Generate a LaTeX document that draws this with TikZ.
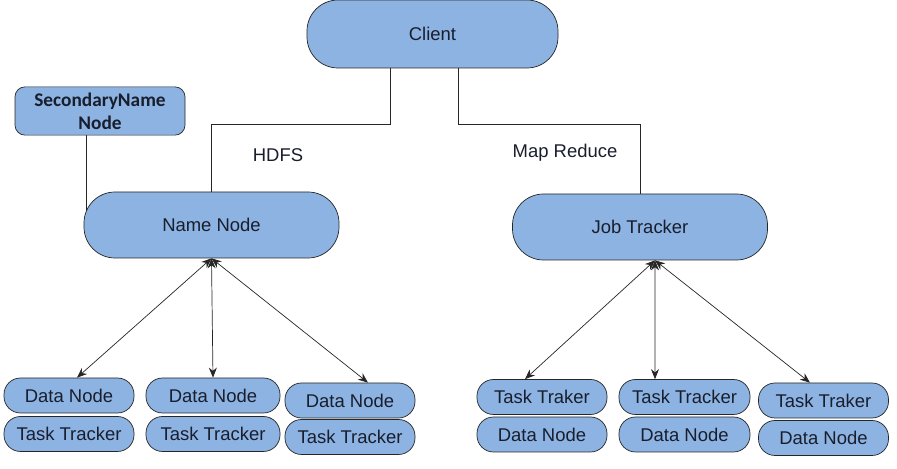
\documentclass[tikz,border=0pt]{standalone}
\usepackage{fontspec}
\setmainfont{Liberation Sans}
\newfontfamily\calibrifont{Carlito}
\usetikzlibrary{arrows.meta,backgrounds}
\definecolor{boxblue}{RGB}{141,179,226}
\definecolor{textdark}{RGB}{25,30,45}
\begin{document}
\begin{tikzpicture}[
        pill/.style={draw=black!85, fill=boxblue, rounded corners=0.62cm,
            minimum width=5.1cm, minimum height=1.32cm, text=textdark,
            font=\fontsize{10.5}{12}\selectfont},
        smallpill/.style={draw=black!85, fill=boxblue, rounded corners=0.33cm,
            minimum width=2.6cm, minimum height=0.7cm, inner sep=1pt, text=textdark,
            font=\fontsize{10.5}{12}\selectfont},
        link/.style={draw=black!85, line width=0.5pt},
        both/.style={draw=black!85, line width=0.4pt, {Stealth[length=2mm,width=1.6mm]}-{Stealth[length=2mm,width=1.6mm]}}
    ]
            \useasboundingbox (0,0) rectangle (17.94,9.38);

            \node[pill, minimum width=5.02cm, minimum height=1.36cm] (client) at (8.65,8.70) {Client};
            \node[pill] (nn) at (4.23,4.88) {Name Node};
            \node[pill] (jt) at (12.80,4.84) {Job Tracker};
            \node[draw=black!85, fill=boxblue, rounded corners=0.2cm, minimum width=3.4cm,
                minimum height=0.94cm, align=center, text=textdark,
                font=\calibrifont\bfseries\fontsize{11}{13}\selectfont] (snn) at (2.00,7.16) {SecondaryName\\Node};

            \node[smallpill] (dn1) at ( 1.38,1.47) {Data Node};
            \node[smallpill] (tt1) at ( 1.38,0.70) {Task Tracker};
            \node[smallpill, minimum width=2.68cm] (dn2) at ( 4.26,1.47) {Data Node};
            \node[smallpill, minimum width=2.68cm] (tt2) at ( 4.26,0.70) {Task Tracker};
            \node[smallpill] (dn3) at ( 7.00,1.37) {Data Node};
            \node[smallpill] (tt3) at ( 7.00,0.64) {Task Tracker};

            \node[smallpill] (tt4) at (10.84,1.44) {Task Traker};
            \node[smallpill] (dn4) at (10.84,0.69) {Data Node};
            \node[smallpill, minimum width=2.62cm] (tt5) at (13.69,1.44) {Task Tracker};
            \node[smallpill, minimum width=2.62cm] (dn5) at (13.69,0.69) {Data Node};
            \node[smallpill] (tt6) at (16.47,1.37) {Task Traker};
            \node[smallpill] (dn6) at (16.47,0.62) {Data Node};

            \node[font=\fontsize{10.5}{12}\selectfont, text=textdark] (hdfs) at (5.56,6.28) {HDFS};
            \node[font=\fontsize{10.5}{12}\selectfont, text=textdark] (mr) at (11.30,6.32) {Map Reduce};

            \draw[link] ([xshift=-0.84cm]client.south) -- ++(0,-1.12) -| (nn.north);
            \draw[link] ([xshift=0.52cm]client.south) -- ++(0,-1.12) -| (jt.north);
            \begin{scope}[on background layer]
                \draw[link] ([xshift=-0.28cm]snn.south) -- ([xshift=-0.28cm]snn.south |- nn.center);
            \end{scope}

            \draw[both] (nn.south) -- ([xshift=0.16cm]dn1.north);
            \draw[both] (nn.south) -- (dn2.north);
            \draw[both] (nn.south) -- ([xshift=0.36cm]dn3.north);

            \draw[both] ([xshift=0.30cm]jt.south) -- ([xshift=-0.34cm]tt4.north);
            \draw[both] ([xshift=0.30cm]jt.south) -- ([xshift=-0.59cm]tt5.north);
            \draw[both] ([xshift=0.30cm]jt.south) -- ([xshift=-0.27cm]tt6.north);

        \end{tikzpicture}
\end{document}
